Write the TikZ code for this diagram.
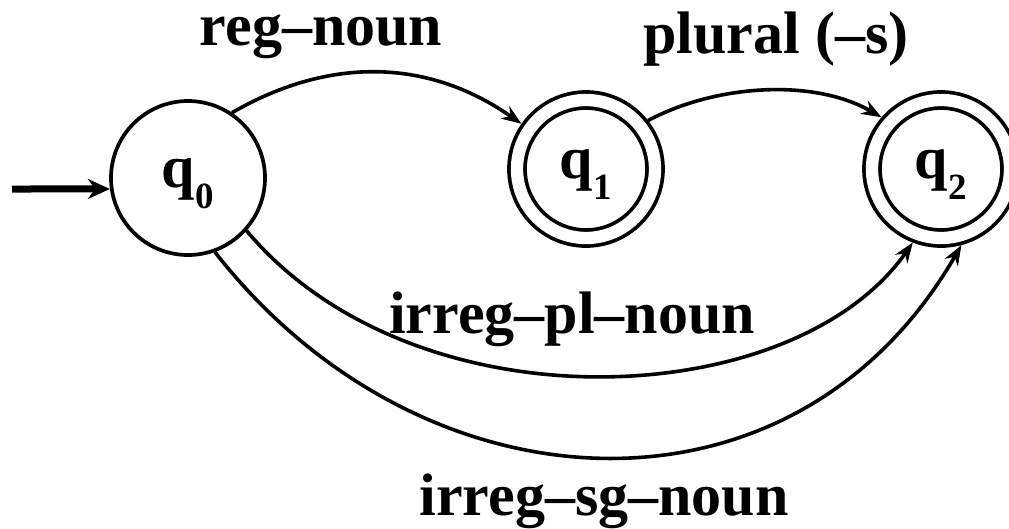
\documentclass[tikz,border=0pt]{standalone}
\usepackage{fontspec}
\setmainfont{Liberation Serif}
\usetikzlibrary{arrows.meta,positioning}
\newcommand{\qlab}[1]{q\hspace{1pt}{\fontsize{37}{40}\selectfont\raisebox{-21pt}{#1}}}

\begin{document}
\begin{tikzpicture}[
  x=1pt,y=-1pt,
  node distance=398pt,on grid,
  every node/.style={font=\bfseries\fontsize{60}{72}\selectfont},
  state/.style={draw,circle,line width=3.7pt,minimum size=154pt,inner sep=0pt,text height=36pt,text depth=18pt},
  final/.style={state,double,double distance=12.3pt,minimum size=138pt,outer sep=9.8pt},
  trans/.style={line width=3.6pt,-{Stealth[length=20pt,width=15pt]}}
]
  \useasboundingbox (0,0) rectangle (1009,528);

  \node[state] (q0) at (188,178) {\qlab{0}};
  \node[final,right=398pt of q0,yshift=9pt] (q1) {\qlab{1}};
  \node[final,right=355pt of q1] (q2) {\qlab{2}};
  \coordinate (start) at (12,189);

  \draw[line width=7pt,-{Stealth[length=22pt,width=20pt]}] (start) -- (q0.188);
  \draw[trans] (q0.56) to[out=30,in=145] (q1.145);
  \draw[trans] (q1.38) to[out=28,in=150,looseness=0.85] (q2.139);
  \draw[trans] (q0.-42) to[out=-50,in=-125,out looseness=1,in looseness=0.8] (q2.-111);
  \draw[trans] (q0.-70) to[out=-52,in=-120,looseness=1.15] (q2.-75);

  \node[anchor=base] (lreg) at (321,45) {reg--noun};
  \node[anchor=base] (lplural) at (776,53) {plural (--s)};
  \node[anchor=base] (lirrpl) at (572,333) {irreg--pl--noun};
  \node[anchor=base] (lirrsg) at (604,515) {irreg--sg--noun};
\end{tikzpicture}
\end{document}
